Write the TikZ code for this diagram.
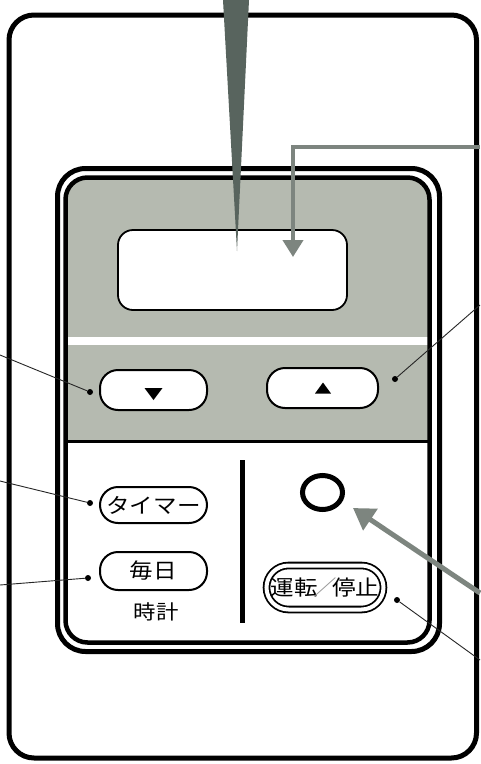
\documentclass[tikz,border=0pt]{standalone}
\usepackage{fontspec}
\newfontfamily\cjk[FakeStretch=1.12]{Noto Sans CJK JP}
\usetikzlibrary{arrows.meta,shapes.geometric}
\definecolor{panelgray}{RGB}{181,186,176}
\definecolor{wedgegray}{RGB}{88,100,94}
\definecolor{arrowgray}{RGB}{125,133,127}
\definecolor{slashgray}{RGB}{150,150,150}
\begin{document}
\begin{tikzpicture}[x=1pt,y=-1pt,
  outerframe/.style={line width=5pt, rounded corners=25pt},
  panelouter/.style={line width=5pt, rounded corners=28pt},
  panelinner/.style={line width=4.5pt, rounded corners=22pt},
  window/.style={draw, line width=1.8pt, fill=white, rounded corners=15pt, minimum width=229pt, minimum height=80pt, inner sep=0pt},
  pill/.style={draw, line width=2pt, fill=white, rounded corners=18pt, inner sep=0pt, font=\cjk\fontsize{21pt}{21pt}\selectfont},
  doublepill/.style={draw, line width=1.8pt, double=white, double distance=4pt, rounded corners=22pt, inner sep=0pt, minimum width=117pt, minimum height=44pt, font=\cjk\fontsize{21pt}{21pt}\selectfont},
  lamp/.style={ellipse, draw, line width=5pt, minimum width=40pt, minimum height=34pt, inner sep=0pt},
  dot/.style={circle, fill=black, inner sep=0pt, minimum size=6pt},
  leader/.style={line width=0.9pt, black!85},
  garrow/.style={arrowgray, line width=4pt, -{Triangle[width=20pt,length=17pt]}},
  garrowbig/.style={arrowgray, line width=5pt, -{Triangle[width=25pt,length=21pt]}},
  label/.style={font=\cjk\fontsize{20pt}{20pt}\selectfont, inner sep=0pt}
]
\useasboundingbox (0,0) rectangle (480,764);
\fill[white] (0,0) rectangle (480,764);

% outer housing
\draw[outerframe] (9,15) rectangle (476.5,758);

% panel gray area
\begin{scope}
  \clip[rounded corners=22pt] (65.5,177.5) rectangle (429.5,642.5);
  \fill[panelgray] (60,170) rectangle (435,442);
  \fill[white] (60,337) rectangle (435,345);
  \draw[line width=2.5pt] (60,441.5) -- (435,441.5);
\end{scope}
\draw[panelouter] (57.5,168.5) rectangle (439.5,651.5);
\draw[panelinner] (65.5,177.5) rectangle (429.5,642.5);

% display window
\node[window] (disp) at (232.5,270) {};

% arrow buttons
\node[pill, minimum width=107pt, minimum height=40pt] (down) at (153.5,390) {};
\node[pill, minimum width=111pt, minimum height=40pt] (up) at (322.5,388) {};
\fill (144.5,388) -- (162.5,388) -- (153.5,400) -- cycle;
\fill (315,393.5) -- (331,393.5) -- (323,382.5) -- cycle;

% lower buttons
\node[pill, minimum width=107pt, minimum height=36pt] (timer) at (153.5,505) {タイマー};
\node[pill, minimum width=107pt, minimum height=38pt] (daily) at (153.5,571) {毎日};
\node[label] (clock) at (156,612) {時計};
\node[doublepill] (run) at (325,587.5) {運転\kern-4.5pt{\color{slashgray}／}\kern-4.5pt停止};

% divider
\draw[line width=5pt] (242.5,460) -- (242.5,623);

% lamp
\node[lamp] (lampc) at (322.5,492.5) {};

% dots and leaders
\node[dot] (ddown) at (90,392) {};
\node[dot] (dup) at (395,379) {};
\node[dot] (dtimer) at (90,503) {};
\node[dot] (ddaily) at (88,578) {};
\node[dot] (drun) at (397,600) {};
\coordinate (ldown) at (0,355);
\coordinate (lup) at (480,305);
\coordinate (ltimer) at (0,481);
\coordinate (ldaily) at (0,585);
\coordinate (lrun) at (480,660);
\draw[leader] (ldown) -- (ddown);
\draw[leader] (lup) -- (dup);
\draw[leader] (ltimer) -- (dtimer);
\draw[leader] (ldaily) -- (ddaily);
\draw[leader] (lrun) -- (drun);

% wedge pointer
\fill[wedgegray] (223,0) -- (249,0) -- (237,251) -- cycle;

% gray arrows
\coordinate (a1) at (480,147);
\coordinate (dispmark) at (293,257);
\draw[garrow] (a1) -| (dispmark);
\coordinate (a2) at (480,593);
\coordinate (lamptip) at (353,508);
\draw[garrowbig] (a2) -- (lamptip);
\end{tikzpicture}
\end{document}
